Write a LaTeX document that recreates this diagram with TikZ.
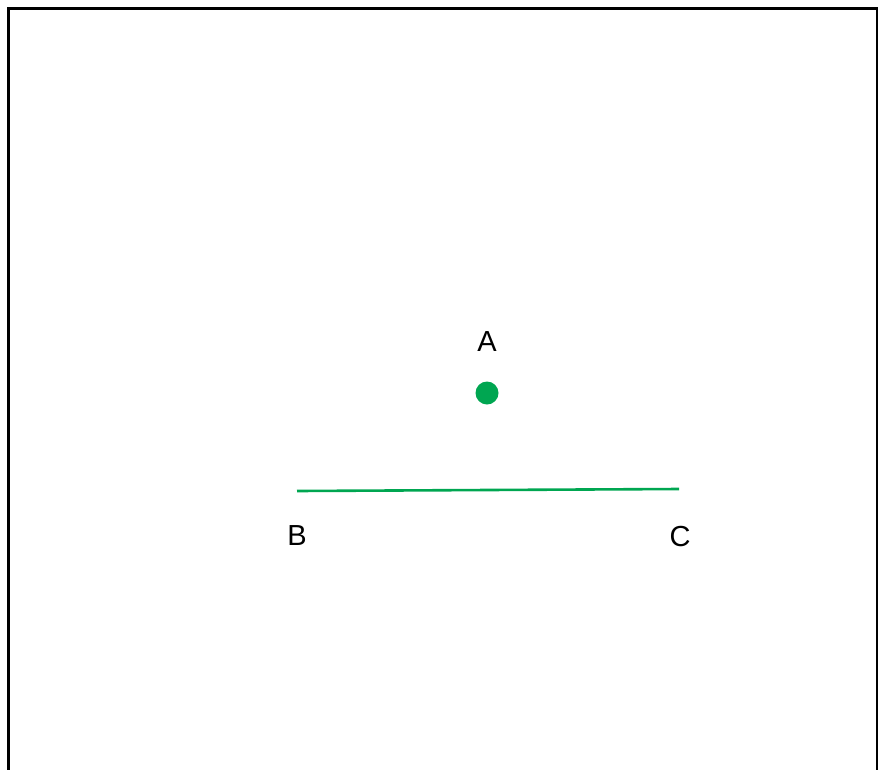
\documentclass[tikz,border=0pt]{standalone}
\usepackage{fontspec}
\setmainfont{Liberation Sans}
\definecolor{ptgreen}{RGB}{0,166,81}
\begin{document}
\begin{tikzpicture}[x=1pt,y=-1pt,
  lbl/.style={font=\fontsize{29}{31}\selectfont, inner sep=0pt, anchor=center},
  seg/.style={draw=ptgreen, line width=2.6pt}]
\useasboundingbox (0,0) rectangle (881,769);
\draw[line width=2.7pt] (8.5,800) -- (8.5,8.5) -- (877,8.5) -- (877,800);
\fill[ptgreen] (487,393) circle (11.5);
\node[lbl] (A) at (487,342) {A};
\coordinate (b) at (297,491);
\coordinate (c) at (679,489);
\draw[seg] (b) -- (c);
\node[lbl] (B) at (297,536) {B};
\node[lbl] (C) at (680,537) {C};
\end{tikzpicture}
\end{document}
